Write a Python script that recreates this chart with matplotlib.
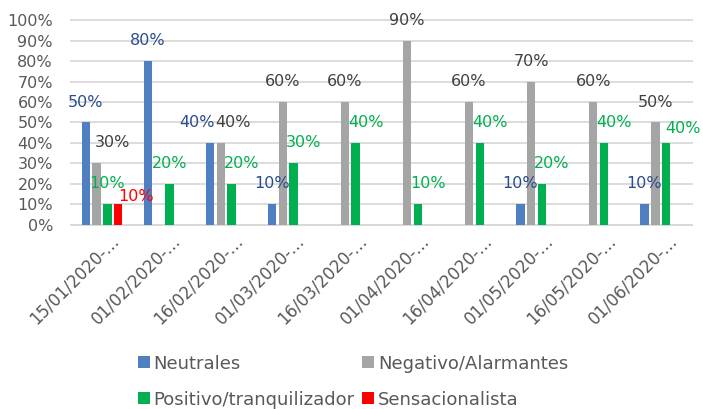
import numpy as np
import matplotlib
matplotlib.use('Agg')
import matplotlib.pyplot as plt
import matplotlib.transforms as mtransforms

# data (percent of news items)
fechas = ['15/01/2020-…', '01/02/2020-…', '16/02/2020-…', '01/03/2020-…', '16/03/2020-…',
          '01/04/2020-…', '16/04/2020-…', '01/05/2020-…', '16/05/2020-…', '01/06/2020-…']
neutrales = [50, 80, 40, 10, 0, 0, 0, 10, 0, 10]
negativo = [30, 0, 40, 60, 60, 90, 60, 70, 60, 50]
positivo = [10, 20, 20, 30, 40, 10, 40, 20, 40, 40]
sensacionalista = [10, 0, 0, 0, 0, 0, 0, 0, 0, 0]
series_names = ['Neutrales', 'Negativo/Alarmantes', 'Positivo/tranquilizador', 'Sensacionalista']

bar_colors = ['#4F7EC1', '#A5A5A5', '#00B050', '#FF0000']
label_colors = ['#2A4C8C', '#404040', '#00B050', '#FF0000']

# label nudges (pixels in x, percent units in y)
default_dx = [0, 0, 10, 18]
dx_override = {(0, 2): -13, (1, 0): 16, (1, 2): 12, (2, 0): 0, (2, 1): 0, (2, 9): 17}
dy_override = {(3, 0): 3.7, (2, 9): 7}

plt.rcParams['font.family'] = ['DejaVu Sans']

fig = plt.figure(figsize=(7.03, 4.09), dpi=100)
ax = fig.add_axes([0.101, 0.450, 0.883, 0.501])

x = np.arange(len(fechas))
step = 0.174
width = 0.137
all_series = [neutrales, negativo, positivo, sensacionalista]

bars = []
for i, vals in enumerate(all_series):
    off = (i - 1.5) * step
    b = ax.bar(x + off, vals, width=width, color=bar_colors[i], label=series_names[i], zorder=3)
    bars.append(b)
    for j, v in enumerate(vals):
        if v == 0:
            continue
        dx = dx_override.get((i, j), default_dx[i])
        dy = dy_override.get((i, j), 10)
        tr = ax.transData + mtransforms.ScaledTranslation(dx / 100, 0, fig.dpi_scale_trans)
        ax.text(x[j] + off, v + dy, f'{v}%', transform=tr, ha='center', va='center',
                fontsize=11.5, color=label_colors[i], clip_on=False, zorder=4)

ax.set_xlim(-0.5, len(fechas) - 0.5)
ax.set_ylim(0, 100)
ax.set_yticks(range(0, 101, 10))
ax.set_yticklabels([f'{t}%' for t in range(0, 101, 10)])
ax.yaxis.grid(True, color='#D9D9D9', linewidth=1.3, zorder=0)
for ln in ax.get_ygridlines():
    ln.set_clip_on(False)
ax.set_axisbelow(True)

for s in ['top', 'right', 'left']:
    ax.spines[s].set_visible(False)
ax.spines['bottom'].set_color('#D9D9D9')
ax.spines['bottom'].set_linewidth(1.3)

ax.tick_params(axis='y', length=0, pad=13, labelsize=11.5, labelcolor='#595959')
ax.tick_params(axis='x', length=0, labelsize=12, labelcolor='#595959')
ax.set_xticks(x)
ax.set_xticklabels(fechas, rotation=45, ha='right', va='center', rotation_mode='anchor')
shift = mtransforms.ScaledTranslation(14 / 100, -8 / 100, fig.dpi_scale_trans)
for lab in ax.get_xticklabels():
    lab.set_transform(lab.get_transform() + shift)

# legend fills column by column, so reorder to get the reference's rows
order = [0, 2, 1, 3]
fig.legend([bars[k] for k in order], [series_names[k] for k in order],
           loc='center', bbox_to_anchor=(0.502, 0.067), ncol=2, frameon=False,
           fontsize=13, labelcolor='#595959', handlelength=0.65, handleheight=0.65,
           handletextpad=0.2, columnspacing=0.45, labelspacing=1.0,
           borderpad=0, borderaxespad=0)

fig.savefig('out.png', dpi=100)
